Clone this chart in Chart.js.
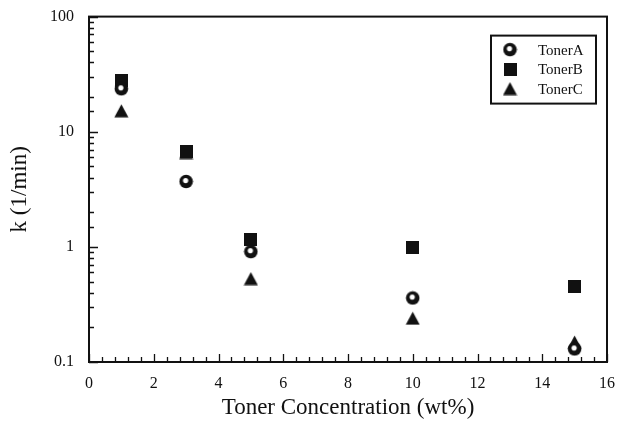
<!DOCTYPE html>
<html>
<head>
<meta charset="utf-8">
<script src="https://cdn.jsdelivr.net/npm/chart.js@4.4.1/dist/chart.umd.min.js"></script>
<style>
  html, body { margin: 0; padding: 0; background: #fff; }
  #wrap { width: 619px; height: 425px; }
</style>
</head>
<body>
<div id="wrap"><canvas id="plot" width="619" height="425"></canvas></div>
<script>
// toner concentration (wt%) and rate constant k (1/min)
var concentration = [1, 3, 5, 10, 15];
var tonerA = [23.6, 3.7, 0.91, 0.36, 0.13];
var tonerB = [27.7, 6.8, 1.16, 0.98, 0.455];
var tonerC = [15.2, 6.6, 0.53, 0.24, 0.149];
var seriesNames = ["TonerA", "TonerB", "TonerC"];
var yMajor = [0.1, 1, 10, 100];

var ink = "#111";
var serif = "'Liberation Serif', 'DejaVu Serif', serif";

// marker bitmaps
function ballMarker() {
    var c = document.createElement("canvas");
    c.width = 15; c.height = 15;
    var g = c.getContext("2d");
    g.fillStyle = ink;
    g.beginPath(); g.arc(7.5, 7.5, 6.8, 0, Math.PI * 2); g.fill();
    g.fillStyle = "#fff";
    g.beginPath(); g.arc(7, 6.6, 2.6, 0, Math.PI * 2); g.fill();
    return c;
}
function squareMarker() {
    var c = document.createElement("canvas");
    c.width = 13; c.height = 13;
    var g = c.getContext("2d");
    g.fillStyle = ink;
    g.fillRect(0, 0, 13, 13);
    return c;
}
function triangleMarker() {
    var c = document.createElement("canvas");
    c.width = 15; c.height = 14;
    var g = c.getContext("2d");
    g.fillStyle = ink;
    g.beginPath(); g.moveTo(7.5, 0.5); g.lineTo(14.5, 13.5); g.lineTo(0.5, 13.5); g.closePath(); g.fill();
    return c;
}
var markers = [ballMarker(), squareMarker(), triangleMarker()];

function toPoints(vals) {
    return vals.map(function (v, i) { return { x: concentration[i], y: v }; });
}

// frame plus inward tick marks on the left and bottom axes
var frameTicks = {
    id: "frameTicks",
    beforeDatasetsDraw: function (chart) {
        var ctx = chart.ctx, a = chart.chartArea;
        var xs = chart.scales.x, ys = chart.scales.y;
        ctx.save();
        ctx.strokeStyle = ink;
        ctx.lineWidth = 1.3;
        ctx.beginPath();
        ys.ticks.forEach(function (t) {
            var y = Math.round(ys.getPixelForValue(t.value)) + 0.5;
            var len = yMajor.indexOf(+t.value.toPrecision(6)) >= 0 ? 9 : 5;
            ctx.moveTo(a.left, y); ctx.lineTo(a.left + len, y);
        });
        xs.ticks.forEach(function (t) {
            var x = Math.round(xs.getPixelForValue(t.value)) + 0.5;
            var major = Math.abs(t.value / 2 - Math.round(t.value / 2)) < 1e-6;
            ctx.moveTo(x, a.bottom); ctx.lineTo(x, a.bottom - (major ? 8 : 5));
        });
        ctx.stroke();
        ctx.lineWidth = 2;
        ctx.strokeRect(a.left, a.top, a.right - a.left, a.bottom - a.top);
        ctx.restore();
    }
};

// boxed legend in the upper right of the plot
var boxLegend = {
    id: "boxLegend",
    afterDatasetsDraw: function (chart) {
        var ctx = chart.ctx, a = chart.chartArea;
        var w = 105, h = 68;
        var left = a.right - 11 - w, top = a.top + 19;
        ctx.save();
        ctx.fillStyle = "#fff";
        ctx.fillRect(left, top, w, h);
        ctx.strokeStyle = ink;
        ctx.lineWidth = 2;
        ctx.strokeRect(left, top, w, h);
        ctx.font = "15px " + serif;
        ctx.textBaseline = "middle";
        ctx.fillStyle = ink;
        seriesNames.forEach(function (name, i) {
            var cy = top + 14 + i * 19.5;
            var m = markers[i];
            ctx.drawImage(m, left + 19 - m.width / 2, cy - m.height / 2);
            ctx.fillText(name, left + 47, cy + 1);
        });
        ctx.restore();
    }
};

new Chart(document.getElementById("plot"), {
    type: "scatter",
    data: {
        datasets: [
            { label: seriesNames[0], data: toPoints(tonerA), pointStyle: markers[0], order: 0 },
            { label: seriesNames[1], data: toPoints(tonerB), pointStyle: markers[1], order: 1 },
            { label: seriesNames[2], data: toPoints(tonerC), pointStyle: markers[2], order: 2 }
        ]
    },
    options: {
        responsive: false,
        animation: false,
        layout: { padding: { left: 0, right: 2, top: 16, bottom: 0 } },
        plugins: {
            legend: { display: false },
            tooltip: { enabled: false }
        },
        scales: {
            x: {
                type: "linear",
                min: 0,
                max: 16,
                grid: { display: false },
                border: { display: false },
                afterFit: function (s) { s.height = 63; },
                ticks: {
                    stepSize: 0.4,
                    autoSkip: false,
                    maxRotation: 0,
                    padding: 4,
                    color: ink,
                    font: { family: serif, size: 16 },
                    callback: function (v) {
                        var k = Math.round(v / 2);
                        return Math.abs(v / 2 - k) < 1e-6 ? String(k * 2) : "";
                    }
                },
                title: {
                    display: true,
                    text: "Toner Concentration (wt%)",
                    color: ink,
                    font: { family: serif, size: 23 },
                    padding: { top: 0, bottom: 3 }
                }
            },
            y: {
                type: "logarithmic",
                min: 0.1,
                max: 100,
                grid: { display: false },
                border: { display: false },
                afterFit: function (s) { s.width = 89; },
                afterBuildTicks: function (s) {
                    s.ticks = s.ticks.filter(function (t) { return t.value >= 0.1 - 1e-9 && t.value <= 100 + 1e-9; });
                },
                ticks: {
                    autoSkip: false,
                    padding: 7,
                    color: ink,
                    font: { family: serif, size: 16 },
                    callback: function (v) {
                        var p = +v.toPrecision(6);
                        return yMajor.indexOf(p) >= 0 ? String(p) : "";
                    }
                },
                title: {
                    display: true,
                    text: "k (1/min)",
                    color: ink,
                    font: { family: serif, size: 23 },
                    padding: { top: 6, bottom: 0 }
                }
            }
        }
    },
    plugins: [frameTicks, boxLegend]
});
</script>
</body>
</html>
